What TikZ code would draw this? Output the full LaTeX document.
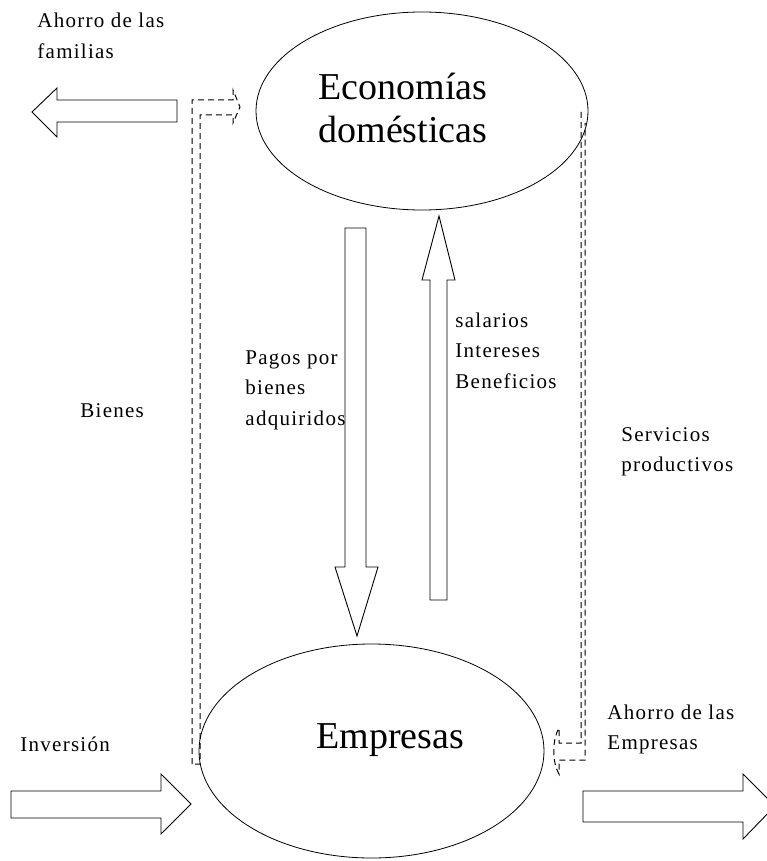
\documentclass[tikz,border=0pt]{standalone}
\usepackage{fontspec}
\setmainfont{Liberation Serif}
\newfontfamily\spaced[LetterSpace=6]{Liberation Serif}
\begin{document}
\begin{tikzpicture}[x=1pt,y=-1pt,
  line width=0.9pt,
  outline/.style={draw=black,line join=miter},
  flow/.style={draw=black,dash pattern=on 6pt off 4pt,line width=1pt},
  sector/.style={draw=black,line width=0.8pt},
  big/.style={font=\fontsize{38}{44}\selectfont,inner sep=0pt,anchor=base west},
  small/.style={font=\fontsize{21}{30.5}\selectfont\spaced,inner sep=0pt,anchor=base west,align=left}]
\useasboundingbox (0,0) rectangle (766,861);

% sectors
\draw[sector] (422,111) ellipse [x radius=166, y radius=99];
\draw[sector] (371.5,751) ellipse [x radius=172.5, y radius=107];
\node[big] (hh1) at (318,100) {Economías};
\node[big] (hh2) at (318,143) {domésticas};
\node[big] (firms) at (316,748) {Empresas};

% payments for goods (down)
\draw[outline] (345,228) -- (366,228) -- (366,567) -- (378,567) -- (357,636)
  -- (335,567) -- (345,567) -- cycle;
% wages, interest, profits (up)
\draw[outline] (430,600) -- (447,600) -- (447,280) -- (455,280) -- (439,216)
  -- (422,280) -- (430,280) -- cycle;

% household saving (left)
\draw[outline] (177,100) -- (177,122) -- (57,122) -- (57,137) -- (32,112)
  -- (57,88) -- (57,100) -- cycle;
% investment (right)
\draw[outline] (11,791) -- (161,791) -- (161,774) -- (191,804) -- (161,834)
  -- (161,818) -- (11,818) -- cycle;
% business saving (right)
\draw[outline] (583,791) -- (743,791) -- (743,774) -- (775,806) -- (743,839)
  -- (743,822) -- (583,822) -- cycle;

% goods flow (dashed)
\draw[flow] (192,764) -- (192,100) -- (233,100) -- (233,90) -- (240,107)
  -- (233,123) -- (233,115) -- (200,115) -- (200,764) -- cycle;
% productive services flow (dashed)
\draw[flow] (581,112) -- (581,743) -- (559,743) -- (559,728)
  .. controls (552,740) and (552,762) .. (559,774) -- (559,760) -- (585,760) -- (585,123);

% labels (anchored at the baseline of their last line)
\node[small] (t1) at (37,58.5) {Ahorro de las\\familias};
\node[small] (t2) at (80,417) {Bienes};
\node[small] (t3) at (245,425) {Pagos por\\bienes\\adquiridos};
\node[small] (t4) at (455,388) {salarios\\Intereses\\Beneficios};
\node[small] (t5) at (621,471.5) {Servicios\\productivos};
\node[small] (t6) at (20,751) {Inversión};
\node[small] (t7) at (607,749.5) {Ahorro de las\\Empresas};
\end{tikzpicture}
\end{document}
